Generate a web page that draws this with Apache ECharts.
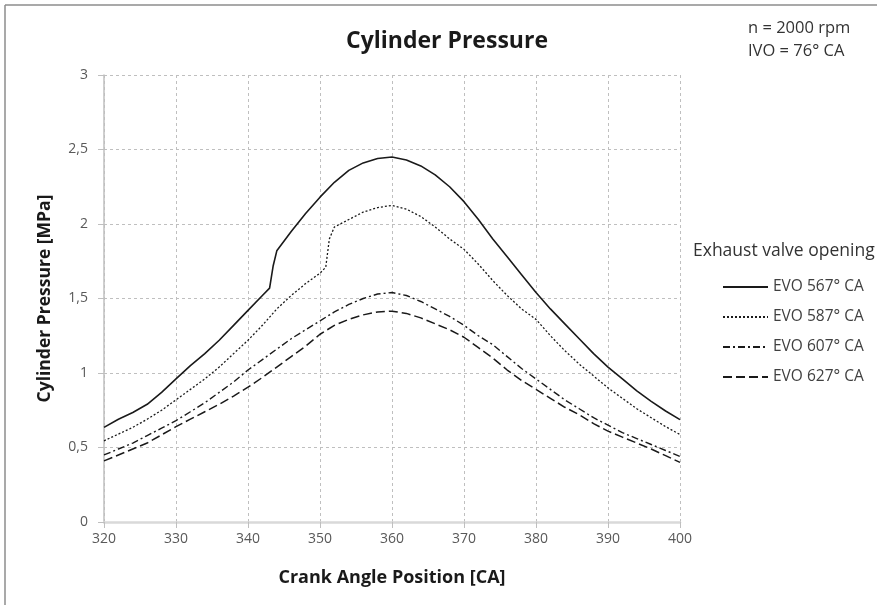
<!DOCTYPE html>
<html>
<head>
<meta charset="utf-8">
<title>Cylinder Pressure</title>
<script src="https://cdn.jsdelivr.net/npm/echarts@6/dist/echarts.min.js"></script>
<style>
  html, body { margin: 0; padding: 0; background: #fff; }
  #chart { width: 877px; height: 605px; }
</style>
</head>
<body>
<div id="chart"></div>
<script>
// values, [crank angle, MPa]
const evo567 = [
  [320, 0.635], [322, 0.69], [324, 0.735], [326, 0.79], [328, 0.87], [330, 0.96],
  [332, 1.05], [334, 1.13], [336, 1.22], [338, 1.32], [340, 1.42], [342, 1.52],
  [343, 1.57], [343.5, 1.72], [344, 1.82], [346, 1.95], [348, 2.07], [350, 2.18],
  [352, 2.28], [354, 2.36], [356, 2.41], [358, 2.44], [360, 2.45], [362, 2.43],
  [364, 2.39], [366, 2.33], [368, 2.25], [370, 2.15], [372, 2.03], [374, 1.9],
  [376, 1.78], [378, 1.66], [380, 1.54], [382, 1.43], [384, 1.33], [386, 1.23],
  [388, 1.13], [390, 1.04], [392, 0.96], [394, 0.88], [396, 0.81], [398, 0.745],
  [400, 0.687]
]
const evo587 = [
  [320, 0.545], [322, 0.59], [324, 0.635], [326, 0.69], [328, 0.75], [330, 0.82],
  [332, 0.89], [334, 0.96], [336, 1.04], [338, 1.13], [340, 1.22], [342, 1.32],
  [344, 1.43], [346, 1.52], [348, 1.6], [350, 1.67], [350.8, 1.71], [351.3, 1.9],
  [352, 1.98], [354, 2.03], [356, 2.08], [358, 2.11], [360, 2.125], [362, 2.1],
  [364, 2.05], [366, 1.98], [368, 1.9], [370, 1.83], [372, 1.73], [374, 1.62],
  [376, 1.52], [378, 1.43], [380, 1.36], [382, 1.25], [384, 1.15], [386, 1.06],
  [388, 0.98], [390, 0.9], [392, 0.83], [394, 0.76], [396, 0.7], [398, 0.64],
  [400, 0.587]
]
const evo607 = [
  [320, 0.45], [322, 0.49], [324, 0.53], [326, 0.58], [328, 0.63], [330, 0.68],
  [332, 0.74], [334, 0.8], [336, 0.87], [338, 0.94], [340, 1.02], [342, 1.09],
  [344, 1.16], [346, 1.23], [348, 1.29], [350, 1.35], [352, 1.41], [354, 1.46],
  [356, 1.5], [358, 1.53], [360, 1.54], [362, 1.52], [364, 1.48], [366, 1.43],
  [368, 1.38], [370, 1.32], [372, 1.25], [374, 1.19], [376, 1.11], [378, 1.03],
  [380, 0.96], [382, 0.89], [384, 0.82], [386, 0.76], [388, 0.7], [390, 0.65],
  [392, 0.6], [394, 0.56], [396, 0.52], [398, 0.48], [400, 0.44]
]
const evo627 = [
  [320, 0.41], [322, 0.45], [324, 0.49], [326, 0.53], [328, 0.585], [330, 0.64],
  [332, 0.69], [334, 0.74], [336, 0.79], [338, 0.845], [340, 0.905], [342, 0.97],
  [344, 1.04], [346, 1.11], [348, 1.18], [350, 1.26], [352, 1.32], [354, 1.36],
  [356, 1.39], [358, 1.41], [360, 1.415], [362, 1.4], [364, 1.37], [366, 1.33],
  [368, 1.29], [370, 1.24], [372, 1.17], [374, 1.1], [376, 1.02], [378, 0.95],
  [380, 0.89], [382, 0.83], [384, 0.77], [386, 0.72], [388, 0.66], [390, 0.61],
  [392, 0.57], [394, 0.53], [396, 0.49], [398, 0.445], [400, 0.4]
]
const seriesNames = ['EVO 567° CA', 'EVO 587° CA', 'EVO 607° CA', 'EVO 627° CA']
const seriesData = [evo567, evo587, evo607, evo627]
const dashTypes = ['solid', [2, 2], [7, 3, 2, 3], [9, 4]]
const lineWidths = [1.6, 1.3, 1.4, 1.5]

const FONT = 'Open Sans'
const chart = echarts.init(document.getElementById('chart'))

chart.setOption({
  animation: false,
  textStyle: { fontFamily: FONT },
  title: {
    text: 'Cylinder Pressure',
    left: 442,
    textAlign: 'center',
    top: 25,
    textStyle: { fontFamily: FONT, fontSize: 23, fontWeight: 'bold', color: '#1a1a1a' },
  },
  grid: { left: 104, right: 197, top: 75, bottom: 83 },
  legend: {
    data: seriesNames,
    orient: 'vertical',
    left: 717,
    top: 274,
    padding: 5,
    itemWidth: 45,
    itemHeight: 14,
    itemGap: 14,
    itemStyle: { opacity: 0 },
    textStyle: { fontFamily: FONT, fontSize: 15.5, color: '#404040' },
  },
  graphic: [
    { type: 'text', left: 748, top: 20, style: { text: 'n = 2000 rpm', font: '16.5px "Open Sans"', fill: '#333' } },
    { type: 'text', left: 748, top: 43, style: { text: 'IVO = 76° CA', font: '16.5px "Open Sans"', fill: '#333' } },
    { type: 'text', left: 693, top: 242, style: { text: 'Exhaust valve opening', font: '17.5px "Open Sans"', fill: '#333' } },
    // figure frame (top and left edges only, as in the crop)
    { type: 'line', shape: { x1: 5, y1: 5, x2: 877, y2: 5 }, style: { stroke: '#8c8c8c', lineWidth: 1.5 } },
    { type: 'line', shape: { x1: 5, y1: 5, x2: 5, y2: 605 }, style: { stroke: '#8c8c8c', lineWidth: 1.5 } },
  ],
  xAxis: {
    type: 'value',
    min: 320,
    max: 400,
    interval: 10,
    name: 'Crank Angle Position [CA]',
    nameLocation: 'middle',
    nameGap: 47,
    nameTextStyle: { fontFamily: FONT, fontSize: 18, fontWeight: 'bold', color: '#1a1a1a' },
    axisLine: { lineStyle: { color: '#d9d9d9', width: 2.5 } },
    axisTick: { show: true, length: 6, lineStyle: { color: '#bfbfbf' } },
    axisLabel: { fontSize: 14, color: '#595959', margin: 10 },
    splitLine: { show: true, lineStyle: { color: '#bfbfbf', type: [3, 3], width: 1 } },
  },
  yAxis: {
    type: 'value',
    min: 0,
    max: 3,
    interval: 0.5,
    name: 'Cylinder Pressure [MPa]',
    nameLocation: 'middle',
    nameGap: 50,
    nameTextStyle: { fontFamily: FONT, fontSize: 17.5, fontWeight: 'bold', color: '#1a1a1a' },
    axisLine: { show: true, lineStyle: { color: '#bfbfbf', width: 1.5 } },
    axisTick: { show: true, length: 6, lineStyle: { color: '#bfbfbf' } },
    axisLabel: {
      fontSize: 14,
      color: '#595959',
      margin: 16,
      formatter: v => String(v).replace('.', ','),
    },
    splitLine: { show: true, lineStyle: { color: '#bfbfbf', type: [3, 3], width: 1 } },
  },
  series: seriesData.map((d, i) => ({
    name: seriesNames[i],
    type: 'line',
    data: d,
    symbol: 'none',
    smooth: false,
    lineStyle: { color: '#1a1a1a', width: lineWidths[i], type: dashTypes[i] },
    itemStyle: { color: '#1a1a1a' },
  })),
})
</script>
</body>
</html>
